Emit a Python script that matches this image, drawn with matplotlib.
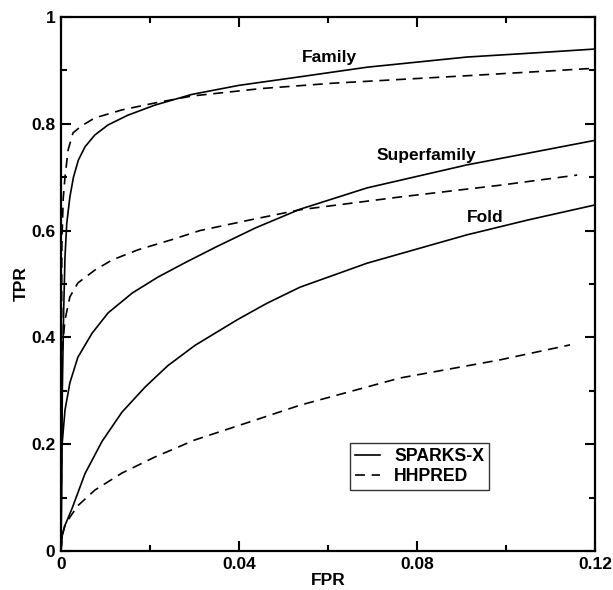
import matplotlib
matplotlib.use("Agg")
import matplotlib.pyplot as plt
from matplotlib.ticker import MultipleLocator, FuncFormatter

plt.rcParams['font.family'] = ['Liberation Sans', 'DejaVu Sans']
plt.rcParams['font.weight'] = 'bold'

# values
fam_sparks_fpr = [0, 0.0003, 0.0006, 0.0009, 0.0013, 0.002, 0.0028, 0.0039, 0.0054, 0.0076, 0.0106, 0.015,
                  0.0211, 0.0294, 0.040, 0.0537, 0.0688, 0.0912, 0.105, 0.12]
fam_sparks_tpr = [0, 0.30, 0.45, 0.551, 0.614, 0.663, 0.700, 0.732, 0.757, 0.779, 0.798, 0.816,
                  0.835, 0.855, 0.872, 0.888, 0.906, 0.925, 0.932, 0.940]
fam_hhpred_fpr = [0, 0.0001, 0.0002, 0.0005, 0.0009, 0.0016, 0.0027, 0.0046, 0.0076, 0.0137, 0.0211,
                  0.0294, 0.045, 0.0611, 0.0912, 0.12]
fam_hhpred_tpr = [0, 0.35, 0.577, 0.660, 0.700, 0.751, 0.783, 0.796, 0.811, 0.826, 0.839,
                  0.852, 0.866, 0.876, 0.890, 0.904]

sup_sparks_fpr = [0, 0.0001, 0.0002, 0.0009, 0.002, 0.0038, 0.007, 0.0106, 0.016, 0.0218, 0.0279,
                  0.035, 0.0437, 0.0537, 0.0688, 0.0912, 0.105, 0.12]
sup_sparks_tpr = [0, 0.10, 0.195, 0.264, 0.315, 0.363, 0.408, 0.446, 0.483, 0.513, 0.540,
                  0.570, 0.605, 0.640, 0.680, 0.723, 0.745, 0.769]
sup_hhpred_fpr = [0, 0.0001, 0.0002, 0.0009, 0.002, 0.0038, 0.0076, 0.0115, 0.0173, 0.0249, 0.0312,
                  0.0425, 0.0537, 0.0762, 0.0987, 0.116]
sup_hhpred_tpr = [0, 0.20, 0.371, 0.433, 0.476, 0.502, 0.526, 0.545, 0.564, 0.583, 0.600,
                  0.620, 0.639, 0.663, 0.685, 0.704]

fold_sparks_fpr = [0, 0.0003, 0.001, 0.0025, 0.0054, 0.0092, 0.0137, 0.0189, 0.024, 0.0301, 0.0396, 0.0463,
                   0.0537, 0.0688, 0.0912, 0.105, 0.12]
fold_sparks_tpr = [0, 0.03, 0.05, 0.08, 0.145, 0.205, 0.260, 0.307, 0.347, 0.385, 0.433, 0.464,
                   0.494, 0.539, 0.592, 0.620, 0.648]
fold_hhpred_fpr = [0, 0.0003, 0.0009, 0.0038, 0.0076, 0.0137, 0.0211, 0.0301, 0.0425, 0.0537, 0.0762,
                   0.0987, 0.1144]
fold_hhpred_tpr = [0, 0.03, 0.05, 0.085, 0.114, 0.146, 0.176, 0.208, 0.242, 0.273, 0.324,
                   0.358, 0.386]

labels = ["Family", "Superfamily", "Fold"]
label_pos = [(0.0604, 0.925), (0.0822, 0.74), (0.0953, 0.625)]

fig = plt.figure(figsize=(6.13, 5.90), dpi=100)
ax = fig.add_axes([0.0995, 0.0661, 0.8711, 0.9051])

lw = 1.2
dash = (0, (6, 4))
ax.plot(fam_sparks_fpr, fam_sparks_tpr, color='black', lw=lw, label='SPARKS-X')
ax.plot(fam_hhpred_fpr, fam_hhpred_tpr, color='black', lw=lw, ls=dash, label='HHPRED')
ax.plot(sup_sparks_fpr, sup_sparks_tpr, color='black', lw=lw)
ax.plot(sup_hhpred_fpr, sup_hhpred_tpr, color='black', lw=lw, ls=dash)
ax.plot(fold_sparks_fpr, fold_sparks_tpr, color='black', lw=lw)
ax.plot(fold_hhpred_fpr, fold_hhpred_tpr, color='black', lw=lw, ls=dash)

for txt, (x, y) in zip(labels, label_pos):
    ax.text(x, y, txt, fontsize=12.5, fontweight='bold', ha='center', va='center')

ax.set_xlim(0, 0.12)
ax.set_ylim(0, 1)
ax.xaxis.set_major_locator(MultipleLocator(0.04))
ax.xaxis.set_minor_locator(MultipleLocator(0.02))
ax.yaxis.set_major_locator(MultipleLocator(0.2))
ax.yaxis.set_minor_locator(MultipleLocator(0.1))
fmt = FuncFormatter(lambda v, p: f"{v:g}")
ax.xaxis.set_major_formatter(fmt)
ax.yaxis.set_major_formatter(fmt)
ax.tick_params(which='both', direction='in', width=1.5, labelsize=12.5, top=True, right=True, pad=4)
ax.tick_params(which='major', length=7)
ax.tick_params(which='minor', length=4)
for s in ax.spines.values():
    s.set_linewidth(1.6)

ax.set_xlabel("FPR", fontsize=12.5, fontweight='bold', labelpad=1)
ax.set_ylabel("TPR", fontsize=12.5, fontweight='bold', labelpad=2)

leg = ax.legend(loc='lower left', bbox_to_anchor=(0.541, 0.114), fontsize=12.7, frameon=True,
                fancybox=False, edgecolor='black', handlelength=1.4, borderpad=0.3,
                labelspacing=0.15, handletextpad=0.8, borderaxespad=0)
leg.get_frame().set_linewidth(1.0)
for t in leg.get_texts():
    t.set_fontweight('bold')

fig.savefig("out.png", dpi=100)
